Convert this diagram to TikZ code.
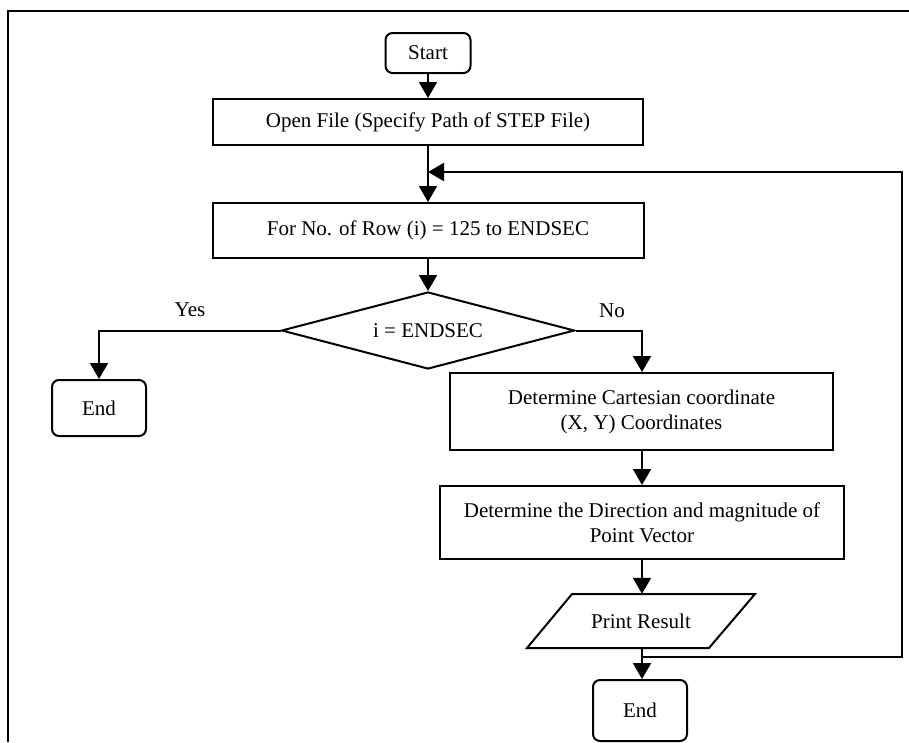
\documentclass[tikz,border=0pt]{standalone}
\usepackage{fontspec}
\setmainfont{Liberation Serif}
\usetikzlibrary{shapes.geometric,arrows.meta,calc}
\begin{document}
\begin{tikzpicture}[x=1pt,y=-1pt,
  every node/.style={font=\fontsize{21}{25}\selectfont, inner sep=0pt, align=center},
  procbox/.style={draw, line width=2pt, rectangle},
  termbox/.style={draw, line width=2pt, rectangle, rounded corners=7pt},
  decbox/.style={draw, line width=2pt, diamond, aspect=3.86},
  iobox/.style={minimum width=183pt, minimum height=54pt},
  flow/.style={line width=2pt, -{Triangle[length=16pt,width=18pt]}},
  lbl/.style={font=\fontsize{21}{25}\selectfont}
]
\useasboundingbox (0,0) rectangle (909,742);
% outer frame (clipped)
\draw[line width=2.5pt] (8,742) -- (8,11) -- (909,11);

\node[termbox, minimum width=85pt, minimum height=40pt] (start) at (428,53) {Start};
\node[procbox, minimum width=430pt, minimum height=46pt] (open) at (428,122) {Open File (Specify Path of STEP File)};
\node[procbox, minimum width=431pt, minimum height=55pt] (for) at (428,230.5) {For No. of Row (i) = 125 to ENDSEC};
\node[decbox, minimum width=293pt, minimum height=77pt] (dec) at (428,330.5) {i = ENDSEC};
\node[termbox, minimum width=94pt, minimum height=56pt] (end1) at (99,408) {End};
\node[procbox, minimum width=383pt, minimum height=77pt] (cart) at (641.5,411.5) {Determine Cartesian coordinate\\(X, Y) Coordinates};
\node[procbox, minimum width=404pt, minimum height=73pt] (dir) at (642,522.5) {Determine the Direction and magnitude of\\Point Vector};
\node[iobox] (print) at (641,621) {Print Result};
\draw[line width=2pt, line join=miter]
  ($(print.center)+(-114,27)$) -- ($(print.center)+(-69,-27)$) --
  ($(print.center)+(114,-27)$) -- ($(print.center)+(68,27)$) -- cycle;
\node[termbox, minimum width=94pt, minimum height=61pt] (end2) at (640,710.5) {End};

\node[lbl] (yes) at (190,310) {Yes};
\node[lbl] (no) at (612,311) {No};

\coordinate (join1) at (428,172);
\coordinate (join2) at (642,657);
\coordinate (loopr) at (902,657);
\coordinate (loopt) at (902,172);

\draw[flow] (start) -- (open);
\draw[flow] (open) -- (for);
\draw[flow] (for) -- (dec);
\draw[flow] (dec.west) -| (end1.north);
\draw[flow] (dec.east) -| (cart.north -| dir.north);
\draw[flow] (cart.south -| dir.north) -- (dir.north);
\draw[flow] (dir.south) -- (print.north -| dir.south);
\draw[flow] (print.south -| dir.south) -- (end2.north -| dir.south);
\draw[flow] (join2) -- (loopr) -- (loopt) -- (join1);
\end{tikzpicture}
\end{document}
